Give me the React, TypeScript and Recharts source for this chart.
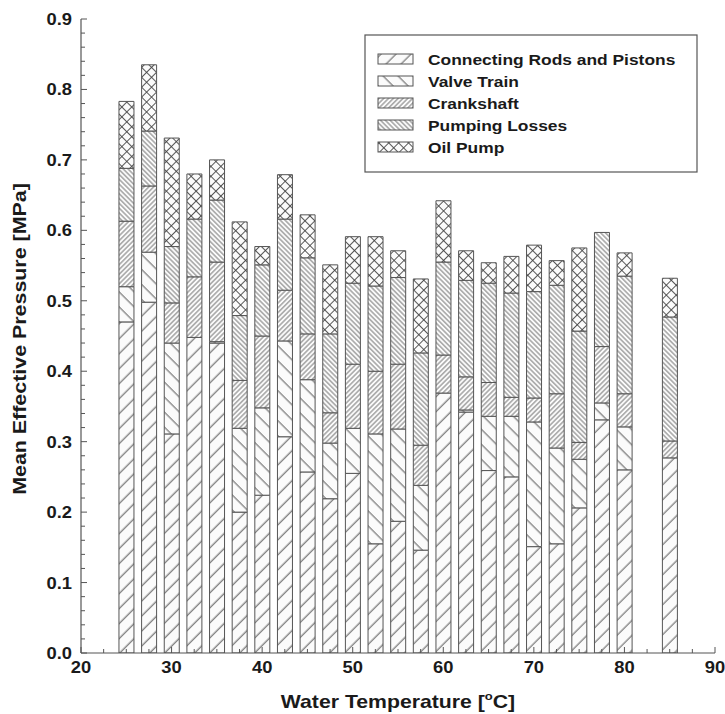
import React from 'react';
import { BarChart, Bar, XAxis, YAxis, Label } from 'recharts';

// ---- data ----
const temps = [25, 27.5, 30, 32.5, 35, 37.5, 40, 42.5, 45, 47.5, 50, 52.5, 55, 57.5, 60, 62.5, 65, 67.5, 70, 72.5, 75, 77.5, 80, 85];
const rods = [0.470, 0.498, 0.311, 0.448, 0.440, 0.200, 0.224, 0.307, 0.257, 0.219, 0.255, 0.155, 0.187, 0.146, 0.369, 0.342, 0.259, 0.250, 0.151, 0.155, 0.206, 0.331, 0.260, 0.277];
const valve = [0.050, 0.071, 0.129, 0.000, 0.002, 0.119, 0.124, 0.136, 0.131, 0.079, 0.064, 0.156, 0.131, 0.092, 0.000, 0.003, 0.077, 0.086, 0.177, 0.136, 0.069, 0.024, 0.061, 0.000];
const crank = [0.093, 0.094, 0.057, 0.086, 0.113, 0.068, 0.102, 0.072, 0.065, 0.043, 0.091, 0.089, 0.092, 0.057, 0.054, 0.047, 0.048, 0.027, 0.034, 0.077, 0.024, 0.080, 0.047, 0.024];
const pumping = [0.075, 0.078, 0.080, 0.082, 0.088, 0.092, 0.101, 0.101, 0.108, 0.112, 0.115, 0.121, 0.123, 0.131, 0.132, 0.137, 0.141, 0.148, 0.151, 0.154, 0.158, 0.162, 0.167, 0.176];
const oilPump = [0.095, 0.094, 0.154, 0.064, 0.057, 0.133, 0.026, 0.063, 0.061, 0.098, 0.066, 0.070, 0.038, 0.105, 0.087, 0.042, 0.029, 0.052, 0.066, 0.035, 0.118, 0.000, 0.033, 0.055];

const seriesKeys = ['rods', 'valve', 'crank', 'pumping', 'oil'];
const seriesNames = ['Connecting Rods and Pistons', 'Valve Train', 'Crankshaft', 'Pumping Losses', 'Oil Pump'];
const patternIds = ['pRods', 'pValve', 'pCrank', 'pPump', 'pOil'];

const xTicks = [20, 22.5, 25, 27.5, 30, 32.5, 35, 37.5, 40, 42.5, 45, 47.5, 50, 52.5, 55, 57.5, 60, 62.5, 65, 67.5, 70, 72.5, 75, 77.5, 80, 82.5, 85, 87.5, 90];
const yMajorTicks = [0, 0.1, 0.2, 0.3, 0.4, 0.5, 0.6, 0.7, 0.8, 0.9];
const yMinorStep = 0.02;
const yTicks: number[] = [];
for (let i = 0; i <= 45; i++) yTicks.push(Math.round(i * yMinorStep * 1000) / 1000);

const xTitle = 'Water Temperature [';
const xTitleSup = 'o';
const xTitleEnd = 'C]';
const yTitle = 'Mean Effective Pressure [MPa]';

const data = temps.map((t, i) => ({
  t,
  rods: rods[i],
  valve: valve[i],
  crank: crank[i],
  pumping: pumping[i],
  oil: oilPump[i],
}));

const FONT = '"Liberation Sans", Arial, Helvetica, sans-serif';
const INK = '#1a1a1a';
const LINE = '#555';

const isMajorX = (v: number) => Math.abs(v / 10 - Math.round(v / 10)) < 1e-6;
const isMajorY = (v: number) => yMajorTicks.some((m) => Math.abs(m - v) < 1e-6);

const BottomTick = (props: any) => {
  const { x, y, payload } = props;
  const v = payload.value;
  const major = isMajorX(v);
  return (
    <g>
      <line x1={x} x2={x} y1={y} y2={y - (major ? 6 : 4)} stroke={LINE} strokeWidth={1} />
      {major && (
        <text
          transform={`translate(${x}, ${y + 20}) scale(1.08, 1)`}
          textAnchor="middle"
          fontFamily={FONT}
          fontWeight="bold"
          fontSize={17}
          fill={INK}
        >
          {v}
        </text>
      )}
    </g>
  );
};

const TopTick = (props: any) => {
  const { x, y, payload } = props;
  const major = isMajorX(payload.value);
  return <line x1={x} x2={x} y1={y} y2={y + (major ? 6 : 4)} stroke={LINE} strokeWidth={1} />;
};

const LeftTick = (props: any) => {
  const { x, y, payload } = props;
  const v = payload.value;
  const major = isMajorY(v);
  return (
    <g>
      <line x1={x} x2={x + (major ? 6 : 4)} y1={y} y2={y} stroke={LINE} strokeWidth={1} />
      {major && (
        <text
          transform={`translate(${x - 9}, ${y + 6}) scale(1.08, 1)`}
          textAnchor="end"
          fontFamily={FONT}
          fontWeight="bold"
          fontSize={17}
          fill={INK}
        >
          {v.toFixed(1)}
        </text>
      )}
    </g>
  );
};

const RightTick = (props: any) => {
  const { x, y, payload } = props;
  const major = isMajorY(payload.value);
  return <line x1={x} x2={x - (major ? 6 : 4)} y1={y} y2={y} stroke={LINE} strokeWidth={1} />;
};

const Patterns = () => (
  <svg width={0} height={0} style={{ position: 'absolute', left: 0, top: 0 }}>
    <defs>
      <pattern id="pRods" patternUnits="userSpaceOnUse" width={10.6} height={10.6} patternTransform="rotate(45)">
        <rect width={10.6} height={10.6} fill="#fbfbfb" />
        <line x1={5} y1={0} x2={5} y2={10.6} stroke="#444" strokeWidth={0.9} />
      </pattern>
      <pattern id="pValve" patternUnits="userSpaceOnUse" width={10.6} height={10.6} patternTransform="rotate(-45)">
        <rect width={10.6} height={10.6} fill="#fbfbfb" />
        <line x1={5} y1={0} x2={5} y2={10.6} stroke="#444" strokeWidth={0.9} />
      </pattern>
      <pattern id="pCrank" patternUnits="userSpaceOnUse" width={3.4} height={3.4} patternTransform="rotate(45)">
        <rect width={3.4} height={3.4} fill="#fbfbfb" />
        <line x1={1.7} y1={0} x2={1.7} y2={3.4} stroke="#555" strokeWidth={0.8} />
      </pattern>
      <pattern id="pPump" patternUnits="userSpaceOnUse" width={3.4} height={3.4} patternTransform="rotate(-45)">
        <rect width={3.4} height={3.4} fill="#fbfbfb" />
        <line x1={1.7} y1={0} x2={1.7} y2={3.4} stroke="#555" strokeWidth={0.8} />
      </pattern>
      <pattern id="pOil" patternUnits="userSpaceOnUse" width={7} height={7} patternTransform="rotate(45)">
        <rect width={7} height={7} fill="#fbfbfb" />
        <line x1={3.5} y1={0} x2={3.5} y2={7} stroke="#444" strokeWidth={0.9} />
        <line x1={0} y1={3.5} x2={7} y2={3.5} stroke="#444" strokeWidth={0.9} />
      </pattern>
    </defs>
  </svg>
);

const LegendBox = () => (
  <svg width={334} height={139} style={{ position: 'absolute', left: 364, top: 34 }}>
    <rect x={1} y={1} width={332} height={137} fill="#fff" stroke={LINE} strokeWidth={1.2} />
    {seriesNames.map((name, i) => {
      const cy = 25 + i * 22;
      return (
        <g key={name}>
          <rect x={14} y={cy - 5} width={35} height={10} fill={`url(#${patternIds[i]})`} stroke={LINE} strokeWidth={1} />
          <text
            transform={`translate(64, ${cy + 5.5}) scale(1.16, 1)`}
            fontFamily={FONT}
            fontWeight="bold"
            fontSize={15}
            fill={INK}
          >
            {name}
          </text>
        </g>
      );
    })}
  </svg>
);

const YTitle = (props: any) => {
  const vb = props.viewBox || { x: 0, y: 11, width: 73, height: 634 };
  const cx = 18;
  const cy = vb.y + vb.height / 2 + 3;
  return (
    <text
      transform={`translate(${cx}, ${cy}) rotate(-90) scale(1.19, 1)`}
      textAnchor="middle"
      fontFamily={FONT}
      fontWeight="bold"
      fontSize={18}
      fill={INK}
    >
      {yTitle}
    </text>
  );
};

const XTitle = (props: any) => {
  const vb = props.viewBox || { x: 73, y: 645, width: 634, height: 61 };
  const cx = vb.x + vb.width / 2;
  return (
    <text
      transform={`translate(${cx}, 700) scale(1.18, 1)`}
      textAnchor="middle"
      fontFamily={FONT}
      fontWeight="bold"
      fontSize={18}
      fill={INK}
    >
      {xTitle}
      <tspan fontSize={11} dy={-8}>{xTitleSup}</tspan>
      <tspan dy={8}>{xTitleEnd}</tspan>
    </text>
  );
};

export default function App() {
  return (
    <div style={{ position: 'relative', width: 725, height: 714, overflow: 'hidden', background: '#fff' }}>
      <style>{`html,body{margin:0;padding:0;overflow:hidden} .recharts-surface{overflow:visible}`}</style>
      <Patterns />
      <div style={{ position: 'absolute', left: 8, top: 8, width: 717, height: 706 }}>
        <BarChart
          width={717}
          height={706}
          data={data}
          margin={{ top: 11, right: 10, bottom: 0, left: 0 }}
          barSize={15}
        >
          <XAxis
            dataKey="t"
            type="number"
            domain={[20, 90]}
            ticks={xTicks}
            interval={0}
            allowDataOverflow
            height={61}
            axisLine={{ stroke: LINE, strokeWidth: 1.2 }}
            tickLine={false}
            tickSize={0}
            tickMargin={0}
            tick={<BottomTick />}
            padding={{ left: 0, right: 0 }}
          >
            <Label content={<XTitle />} />
          </XAxis>
          <XAxis
            xAxisId="top"
            orientation="top"
            dataKey="t"
            type="number"
            domain={[20, 90]}
            ticks={xTicks}
            interval={0}
            allowDataOverflow
            height={0}
            axisLine={{ stroke: LINE, strokeWidth: 1.2 }}
            tickLine={false}
            tickSize={0}
            tickMargin={0}
            tick={<TopTick />}
          />
          <YAxis
            type="number"
            domain={[0, 0.9]}
            ticks={yTicks}
            interval={0}
            allowDataOverflow
            width={73}
            axisLine={{ stroke: LINE, strokeWidth: 1.2 }}
            tickLine={false}
            tickSize={0}
            tickMargin={0}
            tick={<LeftTick />}
          >
            <Label content={<YTitle />} />
          </YAxis>
          <YAxis
            yAxisId="right"
            orientation="right"
            type="number"
            domain={[0, 0.9]}
            ticks={yTicks}
            interval={0}
            allowDataOverflow
            width={0}
            axisLine={{ stroke: LINE, strokeWidth: 1.2 }}
            tickLine={false}
            tickSize={0}
            tickMargin={0}
            tick={<RightTick />}
          />
          {seriesKeys.map((k, i) => (
            <Bar
              key={k}
              dataKey={k}
              name={seriesNames[i]}
              stackId="a"
              fill={`url(#${patternIds[i]})`}
              stroke={LINE}
              strokeWidth={1}
              isAnimationActive={false}
            />
          ))}
        </BarChart>
      </div>
      <LegendBox />
    </div>
  );
}
